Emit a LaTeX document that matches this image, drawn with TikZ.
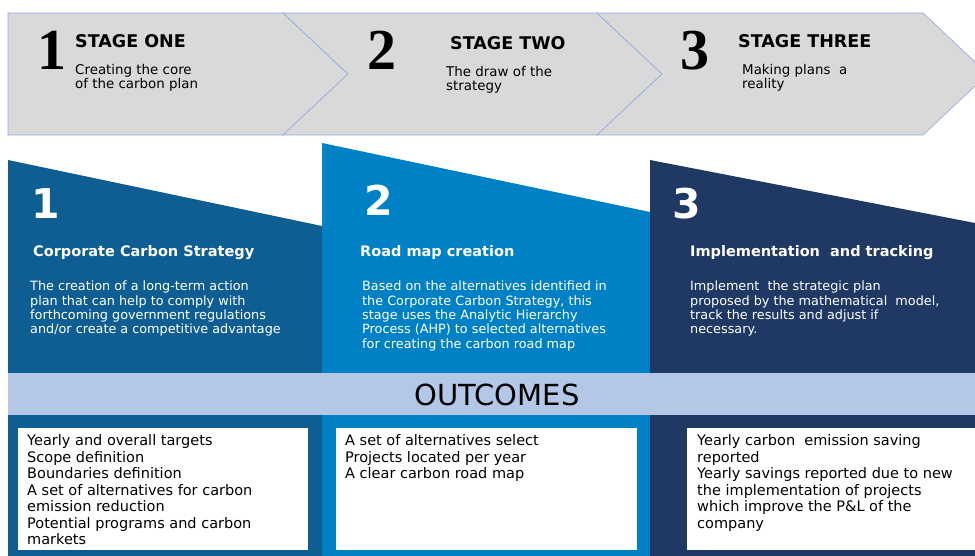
\documentclass[tikz,border=0pt]{standalone}
\usepackage{fontspec}
\setmainfont{DejaVu Sans}
\newfontfamily\numfont{Liberation Serif}
\usetikzlibrary{positioning}
\definecolor{chevgray}{HTML}{D9D9D9}
\definecolor{chevline}{HTML}{8FAADC}
\definecolor{blockone}{HTML}{0E5E93}
\definecolor{blocktwo}{HTML}{0081C6}
\definecolor{blockthree}{HTML}{1F3864}
\definecolor{outband}{HTML}{B4C7E7}
\tikzset{
	stagenum/.style={anchor=base west, inner sep=0pt, font=\numfont\bfseries\fontsize{58}{58}\selectfont},
	stagetitle/.style={anchor=base west, inner sep=0pt, font=\bfseries\fontsize{17.5}{20}\selectfont},
	stagetext/.style={anchor=north west, inner sep=0pt, align=left, execute at begin node=\strut, font=\fontsize{13.4}{14.5}\selectfont},
	blocknum/.style={anchor=base west, inner sep=0pt, white, font=\bfseries\fontsize{41}{41}\selectfont},
	blocktitle/.style={anchor=base west, inner sep=0pt, white, font=\bfseries\fontsize{14.5}{17}\selectfont},
	blocktext/.style={anchor=north west, inner sep=0pt, white, align=left, execute at begin node=\strut, font=\fontsize{12.8}{14.3}\selectfont},
	outtext/.style={anchor=north west, inner sep=0pt, align=left, execute at begin node=\strut, font=\fontsize{14.5}{16.5}\selectfont}
}
\begin{document}
\begin{tikzpicture}[x=1pt,y=-1pt]
		\useasboundingbox (0,0) rectangle (975,556);
		\clip (0,0) rectangle (975,556);
		% stage chevrons
		\draw[chevline, fill=chevgray, line width=0.6pt] (8,13) -- (283,13) -- (348,74) -- (283,135) -- (8,135) -- cycle;
		\draw[chevline, fill=chevgray, line width=0.6pt] (283,13) -- (597,13) -- (662,74) -- (597,135) -- (283,135) -- (348,74) -- cycle;
		\draw[chevline, fill=chevgray, line width=0.6pt] (597,13) -- (923,13) -- (988,74) -- (923,135) -- (597,135) -- (662,74) -- cycle;
		\node[stagenum] (s1num) at (37,70) {1};
		\node[stagetitle] (s1title) at (75,48) {STAGE ONE};
		\node[stagetext] (s1text) at (75,63.85) {Creating the core\\of the carbon plan};
		\node[stagenum] (s2num) at (367,70) {2};
		\node[stagetitle] (s2title) at (450,50) {STAGE TWO};
		\node[stagetext] (s2text) at (446,65.85) {The draw of the\\strategy};
		\node[stagenum] (s3num) at (680,70) {3};
		\node[stagetitle] (s3title) at (738,48) {STAGE THREE};
		\node[stagetext] (s3text) at (742,63.85) {Making plans\ \ a\\reality};
		
		% blocks
		\fill[blockone] (8,160) -- (322,226) -- (322,556) -- (8,556) -- cycle;
		\fill[blocktwo] (322,143) -- (650,212) -- (650,556) -- (322,556) -- cycle;
		\fill[blockthree] (650,160) -- (975,223) -- (975,556) -- (650,556) -- cycle;
		\node[blocknum] (b1num) at (31,219) {1};
		\node[blocknum] (b2num) at (364,216) {2};
		\node[blocknum] (b3num) at (672,219) {3};
		\node[blocktitle] (b1title) at (33,257) {Corporate Carbon Strategy};
		\node[blocktitle] (b2title) at (360,257) {Road map creation};
		\node[blocktitle] (b3title) at (690,257) {Implementation\ \ and tracking};
		\node[blocktext] (b1text) at (30,281) {The creation of a long-term action\\plan that can help to comply with\\forthcoming government regulations\\and/or create a competitive advantage};
		\node[blocktext] (b2text) at (362,281) {Based on the alternatives identified in\\the Corporate Carbon Strategy, this\\stage uses the Analytic Hierarchy\\Process (AHP) to selected alternatives\\for creating the carbon road map};
		\node[blocktext] (b3text) at (690,281) {Implement\ \ the strategic plan\\proposed by the mathematical\ \ model,\\track the results and adjust if\\necessary.};
		
		% outcomes
		\fill[outband] (8,373) rectangle (975,415);
		\node[anchor=base, inner sep=0pt, font=\fontsize{29}{29}\selectfont] (outtitle) at (497,405) {OUTCOMES};
		\fill[white] (18,428) rectangle (308,550);
		\fill[white] (336,428) rectangle (637,550);
		\fill[white] (687,428) rectangle (980,550);
		\node[outtext] (o1text) at (27,434.45) {Yearly and overall targets\\Scope definition\\Boundaries definition\\A set of alternatives for carbon\\emission reduction\\Potential programs and carbon\\markets};
		\node[outtext] (o2text) at (345,434.45) {A set of alternatives select\\Projects located per year\\A clear carbon road map};
		\node[outtext] (o3text) at (697,434.45) {Yearly carbon\ \ emission saving\\reported\\Yearly savings reported due to new\\the implementation of projects\\which improve the P\&L of the\\company};
\end{tikzpicture}
\end{document}
